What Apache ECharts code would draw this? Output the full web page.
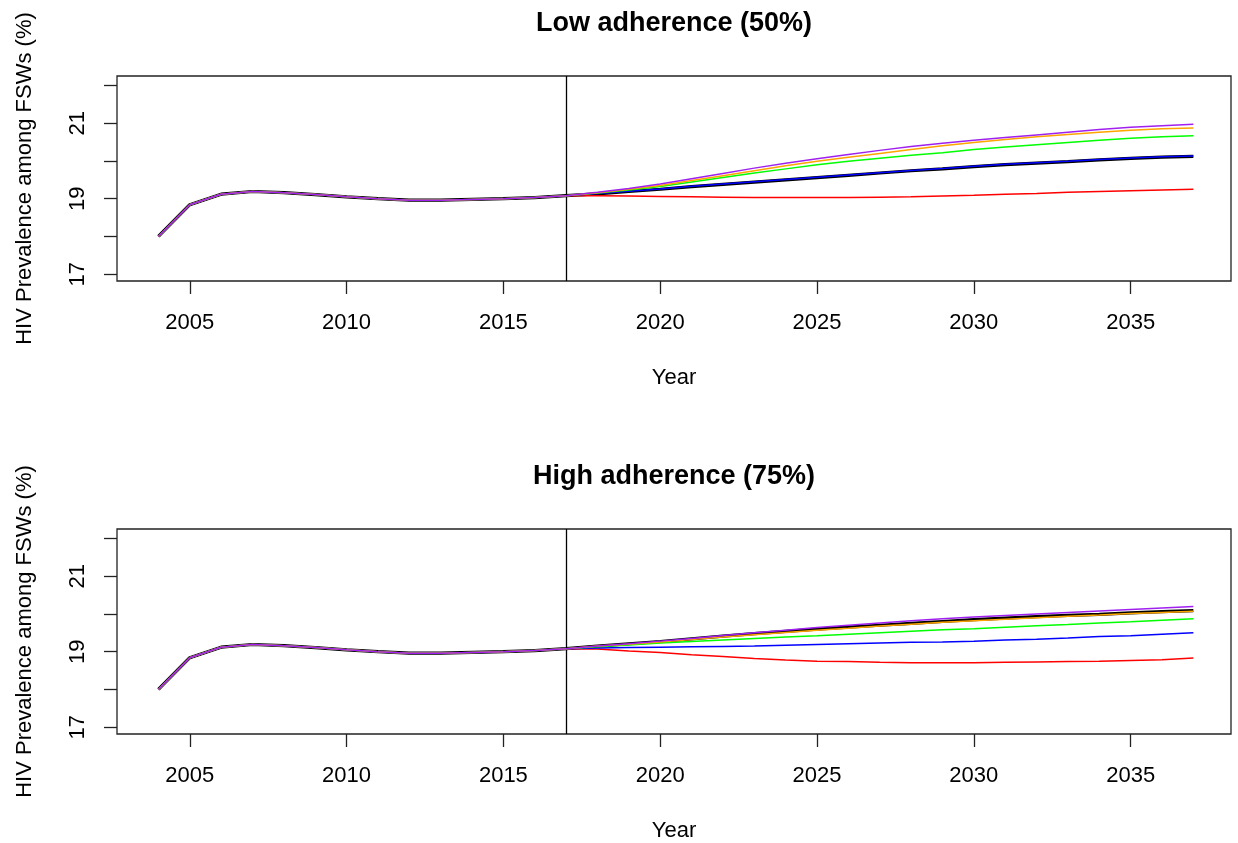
<!DOCTYPE html>
<html>
<head>
<meta charset="utf-8">
<script src="https://cdn.jsdelivr.net/npm/echarts@6/dist/echarts.min.js"></script>
<style>
html,body{margin:0;padding:0;background:#fff;}
#c{width:1238px;height:843px;}
</style>
</head>
<body>
<div id="c"></div>
<script>
// ---- data ----
const years = [2004,2005,2006,2007,2008,2009,2010,2011,2012,2013,2014,2015,2016,2017,
  2018,2019,2020,2021,2022,2023,2024,2025,2026,2027,2028,2029,2030,2031,2032,2033,2034,2035,2036,2037];
const xTicks = [2005,2010,2015,2020,2025,2030,2035];
const yTicks = [17,18,19,20,21,22];
const yLabels = [17,19,21];
const interventionYear = 2017;
const titles = ['Low adherence (50%)', 'High adherence (75%)'];
const xTitle = 'Year';
const yTitle = 'HIV Prevalence among FSWs (%)';

// historical fit 2004-2017 (shared by all scenarios)
const hist = [18.00,18.84,19.12,19.19,19.16,19.11,19.05,19.00,18.96,18.96,18.98,19.00,19.03,19.08];

// projections 2018-2037, low adherence
const lowBlack  = [19.13,19.19,19.25,19.32,19.38,19.44,19.50,19.56,19.62,19.68,19.74,19.79,19.85,19.90,19.94,19.98,20.03,20.07,20.10,20.12];
const lowRed    = [19.08,19.07,19.06,19.05,19.04,19.03,19.03,19.03,19.03,19.04,19.05,19.07,19.09,19.12,19.14,19.17,19.19,19.21,19.23,19.25];
const lowBlue   = [19.14,19.20,19.26,19.33,19.39,19.45,19.51,19.57,19.63,19.69,19.75,19.80,19.86,19.91,19.95,19.99,20.04,20.08,20.11,20.13];
const lowGreen  = [19.15,19.23,19.32,19.44,19.56,19.68,19.79,19.90,19.99,20.07,20.15,20.22,20.30,20.37,20.43,20.49,20.55,20.60,20.64,20.67];
const lowOrange = [19.16,19.25,19.35,19.48,19.61,19.74,19.87,19.99,20.10,20.20,20.30,20.40,20.49,20.57,20.64,20.70,20.76,20.81,20.85,20.87];
const lowPurple = [19.17,19.27,19.39,19.53,19.67,19.81,19.94,20.06,20.17,20.28,20.38,20.47,20.55,20.62,20.69,20.76,20.83,20.89,20.93,20.97];

// projections 2018-2037, high adherence
const highBlack  = [19.15,19.21,19.27,19.34,19.41,19.48,19.54,19.60,19.65,19.70,19.75,19.80,19.85,19.89,19.93,19.96,19.99,20.03,20.06,20.09];
const highRed    = [19.07,19.02,18.98,18.92,18.87,18.82,18.78,18.75,18.74,18.72,18.71,18.71,18.71,18.72,18.73,18.74,18.75,18.77,18.79,18.83];
const highBlue   = [19.10,19.11,19.12,19.13,19.14,19.15,19.17,19.19,19.21,19.23,19.25,19.26,19.28,19.31,19.33,19.36,19.40,19.42,19.46,19.50];
const highGreen  = [19.13,19.18,19.23,19.27,19.31,19.35,19.39,19.42,19.46,19.50,19.54,19.58,19.61,19.65,19.69,19.72,19.76,19.79,19.83,19.87];
const highOrange = [19.15,19.20,19.26,19.32,19.39,19.45,19.51,19.57,19.62,19.68,19.73,19.78,19.82,19.86,19.90,19.94,19.97,20.01,20.04,20.07];
const highPurple = [19.15,19.21,19.28,19.35,19.43,19.50,19.57,19.64,19.70,19.76,19.82,19.87,19.92,19.96,20.00,20.04,20.08,20.12,20.16,20.20];

const colors = {black:'#000000', red:'#FF0000', blue:'#0000FF', green:'#00FF00', orange:'#FFA500', purple:'#A020F0'};
const panels = [
  [['black',lowBlack],['red',lowRed],['blue',lowBlue],['green',lowGreen],['orange',lowOrange],['purple',lowPurple]],
  [['black',highBlack],['red',highRed],['blue',highBlue],['green',highGreen],['orange',highOrange],['purple',highPurple]]
];

// ---- layout ----
const FONT = '"Liberation Sans", Arial, sans-serif';
const gridLeft = 117, gridRight = 7, gridH = 205;
const gridTops = [76, 529];
const titleTops = [10, 463];

const grids = [], xAxes = [], yAxes = [], series = [], titleOpts = [];
panels.forEach((panel, gi) => {
  grids.push({left: gridLeft, right: gridRight, top: gridTops[gi], height: gridH,
    show: true, borderColor: '#222', borderWidth: 1.3, backgroundColor: 'transparent'});
  titleOpts.push({text: titles[gi], left: (gridLeft + 1238 - gridRight) / 2, top: titleTops[gi],
    textAlign: 'center', padding: 0,
    textStyle: {fontFamily: FONT, fontSize: 27, fontWeight: 'bold', color: '#000'}});
  xAxes.push({type: 'value', gridIndex: gi, min: 2002.68, max: 2038.2,
    name: xTitle, nameLocation: 'middle', nameGap: 86,
    nameTextStyle: {fontFamily: FONT, fontSize: 22, color: '#000'},
    splitLine: {show: false},
    axisLine: {show: false},
    axisTick: {show: true, length: 13, inside: false, customValues: xTicks, lineStyle: {color: '#222', width: 1.3}},
    axisLabel: {show: true, margin: 31, customValues: xTicks, fontFamily: FONT, fontSize: 22, color: '#000',
      formatter: v => String(v)}
  });
  yAxes.push({type: 'value', gridIndex: gi, min: 16.82, max: 22.25,
    name: yTitle, nameLocation: 'middle', nameGap: 81, nameRotate: 90,
    nameTextStyle: {fontFamily: FONT, fontSize: 22, color: '#000'},
    splitLine: {show: false},
    axisLine: {show: false},
    axisTick: {show: true, length: 13, inside: false, customValues: yTicks, lineStyle: {color: '#222', width: 1.3}},
    axisLabel: {show: true, rotate: 90, margin: 28, customValues: yLabels, fontFamily: FONT, fontSize: 22, color: '#000',
      formatter: v => String(v)}
  });
  panel.forEach(([name, proj], si) => {
    const vals = hist.concat(proj);
    const s = {
      type: 'line', xAxisIndex: gi, yAxisIndex: gi, name: name,
      data: years.map((y, i) => [y, vals[i]]),
      symbol: 'none', smooth: false,
      lineStyle: {color: colors[name], width: name === 'black' ? 3.2 : 1.5},
      itemStyle: {color: colors[name]},
      z: 2 + si
    };
    if (si === 0) {
      s.markLine = {silent: true, symbol: ['none','none'], label: {show: false},
        lineStyle: {color: '#000', width: 1.3, type: 'solid'},
        data: [{xAxis: interventionYear}]};
    }
    series.push(s);
  });
});

const chart = echarts.init(document.getElementById('c'), null, {renderer: 'canvas'});
chart.setOption({
  animation: false,
  backgroundColor: '#fff',
  title: titleOpts,
  grid: grids,
  xAxis: xAxes,
  yAxis: yAxes,
  series: series
});
</script>
</body>
</html>
